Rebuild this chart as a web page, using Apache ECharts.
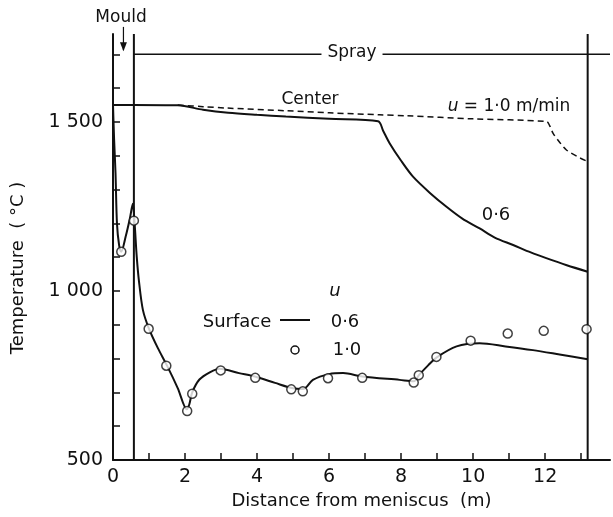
<!DOCTYPE html>
<html>
<head>
<meta charset="utf-8">
<script src="https://cdn.jsdelivr.net/npm/echarts@6/dist/echarts.min.js"></script>
<style>html,body{margin:0;padding:0;background:#fff}#c{width:613px;height:517px}</style>
</head>
<body>
<div id="c"></div>
<script>
// ---- data (distance m, temperature °C) ----
const xTicks = [0,1,2,3,4,5,6,7,8,9,10,11,12,13];
const xLabels = [0,2,4,6,8,10,12];
const yTicks = [500,600,700,800,900,1000,1100,1200,1300,1400,1500,1600,1700];
const yLabels = [500,1000,1500];

const center06 = [[0,1550],[0.58,1550],[1.8,1549],[2.5,1536],[3.2,1527],[4.0,1521],[4.8,1516],[6.0,1509],[7.36,1502],
  [7.5,1474],[7.68,1437],[8.0,1385],[8.33,1338],[8.8,1290],[9.26,1249],[9.7,1214],[10.18,1185],[10.6,1158],[11.11,1136],[11.6,1114],[12.03,1097],[12.6,1076],[13.18,1057]];
const center10 = [[1.8,1550],[2.5,1545],[3.15,1541],[4.81,1533],[6.0,1527],[7.4,1521],[8.15,1518],[10.0,1509],[12.04,1501],
  [12.12,1490],[12.22,1466],[12.4,1440],[12.59,1417],[12.9,1397],[13.18,1383]];
const surface06 = [[0,1550],[0.03,1450],[0.07,1348],[0.11,1200],[0.17,1135],[0.23,1116],[0.35,1160],[0.47,1215],[0.55,1258],
  [0.6,1200],[0.66,1100],[0.72,1030],[0.83,944],[1.0,888],[1.25,830],[1.5,779],[1.8,712],[2.05,650],[2.12,665],[2.2,700],
  [2.4,738],[2.7,760],[2.96,770],[3.5,757],[4.0,745],[4.5,728],[5.0,712],[5.28,710],[5.55,737],[6.0,754],[6.39,757],[6.92,747],
  [7.96,737],[8.35,733],[8.5,752],[8.75,780],[8.98,803],[9.54,836],[10.18,845],[10.9,836],[11.66,825],[12.4,812],[13.18,798]];
const surface10pts = [[0.23,1116],[0.58,1208],[0.99,888],[1.48,779],[2.06,645],[2.20,696],[2.99,765],[3.95,743],[4.95,709],
  [5.27,703],[5.97,742],[6.92,743],[8.35,729],[8.49,751],[8.98,805],[9.93,853],[10.96,874],[11.96,882],[13.15,887]];
const mouldLine = [[0.58,500],[0.58,1760]];
const sprayEndLine = [[13.18,500],[13.18,1760]];
const sprayLeft = [[-0.84,1700],[-0.08,1700]];
const sprayRight = [[0.58,1700],[13.8,1700]];
const mouldArrow = [[0.29,1781],[0.29,1712]];

const FONT = '"DejaVu Sans", "Liberation Sans", sans-serif';
const chart = echarts.init(document.getElementById('c'), null, {renderer:'canvas'});
const blk = '#111';

function fmtY(v){ const s = String(v); return s.length > 3 ? s.slice(0, s.length-3) + ' ' + s.slice(-3) : s; }

const option = {
  backgroundColor: '#fff',
  animation: false,
  grid: {left: 113, right: 3, top: 34, bottom: 57},
  xAxis: {
    type: 'value', min: 0, max: 13.8,
    axisLine: {show: true, lineStyle: {color: blk, width: 2}},
    axisTick: {show: true, inside: true, length: 7, customValues: xTicks, lineStyle: {color: blk, width: 1.5}},
    axisLabel: {customValues: xLabels, color: blk, fontSize: 19, fontFamily: FONT, margin: 8},
    splitLine: {show: false},
    name: 'Distance from meniscus  (m)', nameLocation: 'middle', nameGap: 31,
    nameTextStyle: {color: blk, fontSize: 18, fontFamily: FONT}
  },
  yAxis: {
    type: 'value', min: 500, max: 1760,
    axisLine: {show: true, lineStyle: {color: blk, width: 2}},
    axisTick: {show: true, inside: true, length: 7, customValues: yTicks, lineStyle: {color: blk, width: 1.5}},
    axisLabel: {customValues: yLabels, formatter: fmtY, color: blk, fontSize: 19, fontFamily: FONT, margin: 10},
    splitLine: {show: false}
  },
  series: [
    {type:'line', data: center06, showSymbol:false, smooth:0.3, lineStyle:{color:blk,width:2}},
    {type:'line', data: center10, showSymbol:false, smooth:0.3, lineStyle:{color:blk,width:1.5,type:[6,4]}},
    {type:'line', data: surface06, showSymbol:false, smooth:0.3, lineStyle:{color:blk,width:2}},
    {type:'line', data: mouldLine, showSymbol:false, lineStyle:{color:blk,width:2}},
    {type:'line', data: sprayEndLine, showSymbol:false, lineStyle:{color:blk,width:2}},
    {type:'line', data: sprayLeft, showSymbol:false, clip:false, lineStyle:{color:blk,width:1.5}},
    {type:'line', data: sprayRight, showSymbol:false, clip:false, lineStyle:{color:blk,width:1.5}},
    {type:'line', data: mouldArrow, showSymbol:false, clip:false, lineStyle:{color:blk,width:1.2}},
    {type:'scatter', data: surface10pts, symbol:'circle', symbolSize:9, z:5,
      itemStyle:{color:'#fff', borderColor:blk, borderWidth:1.5}}
  ]
};
chart.setOption(option);

// annotations
const tip = chart.convertToPixel({gridIndex:0}, mouldArrow[1]);
const txt = (text, x, y, size, extra) => Object.assign({type:'text', x, y, z:100,
  style: {text, font: size + 'px ' + FONT, fill: blk, align:'center', verticalAlign:'middle'}}, extra||{});
chart.setOption({graphic: [
  txt('Mould', 121, 18, 17),
  {type:'polygon', z:100, shape:{points:[[tip[0]-3.5, tip[1]-8],[tip[0]+3.5, tip[1]-8],[tip[0], tip[1]+1]]}, style:{fill:blk}},
  {type:'text', x:352, y:53, z:100, style:{text:'Spray', font:'17px '+FONT, fill:blk, align:'center', verticalAlign:'middle', backgroundColor:'#fff', padding:[2,6]}},
  txt('Center', 310, 100, 17),
  {type:'text', x:509, y:107, z:100, style:{text:'{i|u} = 1·0 m/min', font:'17px '+FONT, fill:blk, align:'center', verticalAlign:'middle',
    rich:{i:{fontStyle:'italic', font:'italic 17px '+FONT, fill:blk}}}},
  txt('0·6', 496, 215, 18),
  {type:'text', x:335, y:291, z:100, style:{text:'u', font:'italic 18px '+FONT, fill:blk, align:'center', verticalAlign:'middle'}},
  txt('Surface', 237, 322, 18),
  {type:'line', z:100, shape:{x1:280, y1:320, x2:310, y2:320}, style:{stroke:blk, lineWidth:2}},
  txt('0·6', 345, 322, 18),
  {type:'circle', z:100, shape:{cx:295, cy:350, r:4}, style:{fill:'#fff', stroke:blk, lineWidth:1.5}},
  txt('1·0', 347, 350, 18),
  {type:'text', x:18, y:268, z:100, rotation:Math.PI/2, style:{text:'Temperature  ( °C )', font:'18px '+FONT, fill:blk, align:'center', verticalAlign:'middle'}}
]});
</script>
</body>
</html>
